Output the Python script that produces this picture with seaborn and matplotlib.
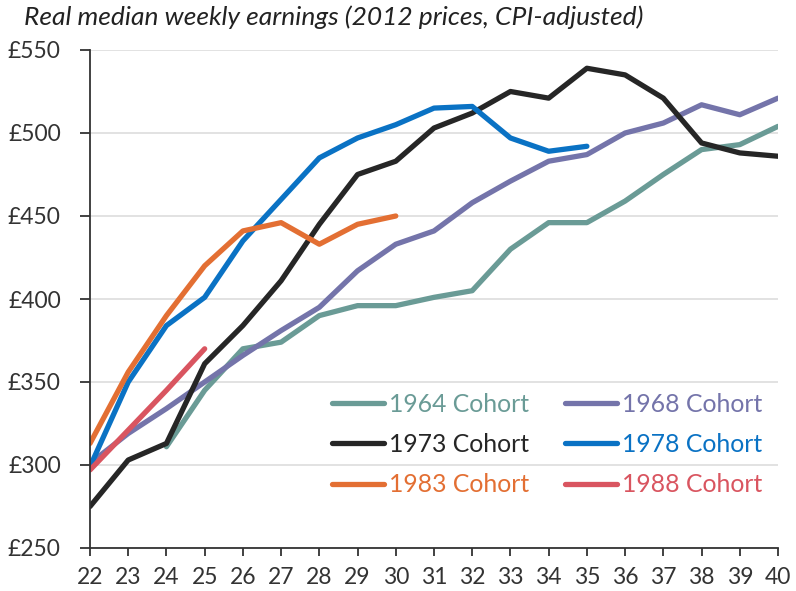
import matplotlib
matplotlib.use("Agg")
import matplotlib.pyplot as plt
import seaborn as sns
import pandas as pd

ages = list(range(22, 41))

c1964_ages = list(range(24, 41))
c1964 = [311, 345, 370, 374, 390, 396, 396, 401, 405, 430, 446, 446, 459, 475, 490, 493, 504]

c1968_ages = list(range(22, 41))
c1968 = [301, 319, 334, 350, 366, 381, 395, 417, 433, 441, 458, 471, 483, 487, 500, 506, 517, 511, 521]

c1973_ages = list(range(22, 41))
c1973 = [275, 303, 313, 361, 384, 411, 445, 475, 483, 503, 512, 525, 521, 539, 535, 521, 494, 488, 486]

c1978_ages = list(range(22, 36))
c1978 = [299, 350, 384, 401, 435, 460, 485, 497, 505, 515, 516, 497, 489, 492]

c1983_ages = list(range(22, 31))
c1983 = [313, 356, 390, 420, 441, 446, 433, 445, 450]

c1988_ages = list(range(22, 26))
c1988 = [297, 321, 345, 370]

cohorts = ["1964 Cohort", "1968 Cohort", "1973 Cohort", "1978 Cohort", "1983 Cohort", "1988 Cohort"]
colors = ["#6a9b96", "#7474aa", "#262626", "#0a72c4", "#e36f33", "#d95560"]
legend_order = ["1964 Cohort", "1973 Cohort", "1983 Cohort", "1968 Cohort", "1978 Cohort", "1988 Cohort"]

yticks = [250, 300, 350, 400, 450, 500, 550]
ytick_labels = ["£250", "£300", "£350", "£400", "£450", "£500", "£550"]
title = "Real median weekly earnings (2012 prices, CPI-adjusted)"

rows = []
for name, a, v in zip(cohorts,
                      [c1964_ages, c1968_ages, c1973_ages, c1978_ages, c1983_ages, c1988_ages],
                      [c1964, c1968, c1973, c1978, c1983, c1988]):
    for ai, vi in zip(a, v):
        rows.append({"age": ai, "earnings": vi, "cohort": name})
df = pd.DataFrame(rows)

sns.set_theme(style="white")
plt.rcParams["font.family"] = ["Lato", "DejaVu Sans"]

fig = plt.figure(figsize=(7.96, 5.91), dpi=100)
ax = fig.add_axes([90/796, 1-548/591, 688/796, 498/591])

sns.lineplot(data=df, x="age", y="earnings", hue="cohort", hue_order=cohorts,
             palette=colors, linewidth=3.8, ax=ax, legend=True, estimator=None,
             solid_capstyle="round")

ax.set_xlim(22, 40)
ax.set_ylim(250, 550)
ax.set_xticks(ages)
ax.set_xticklabels([str(a) for a in ages])
ax.set_yticks(yticks)
ax.set_yticklabels(ytick_labels)
ax.set_xlabel("")
ax.set_ylabel("")
ax.grid(axis="y", color="#dddddd", linewidth=1.2)
ax.set_axisbelow(True)
for s in ["top", "right"]:
    ax.spines[s].set_visible(False)
for s in ["left", "bottom"]:
    ax.spines[s].set_color("#333333")
    ax.spines[s].set_linewidth(1.3)
ax.tick_params(axis="both", which="both", direction="out", length=6, width=1.3,
               color="#333333", labelsize=16.5, labelcolor="#333333")
ax.tick_params(axis="y", pad=14, length=7)
ax.tick_params(axis="x", pad=8)
ax.yaxis.set_ticks_position("left")
ax.xaxis.set_ticks_position("bottom")

handles, labels = ax.get_legend_handles_labels()
hmap = dict(zip(labels, handles))
leg = ax.legend([hmap[l] for l in legend_order], legend_order, ncol=2,
                loc="upper left", bbox_to_anchor=(0.352, 0.312), frameon=False,
                fontsize=17.8, handlelength=2.1, handletextpad=0.2,
                columnspacing=1.45, labelspacing=0.7, borderpad=0, borderaxespad=0,
                labelcolor="linecolor")
for line in leg.get_lines():
    line.set_linewidth(3.8)
    line.set_solid_capstyle("round")

fig.text(24/796, 1-17/591, title, fontsize=19, style="italic", color="#222222",
         ha="left", va="center", family=["Lato", "DejaVu Sans"])

fig.savefig("out.png", dpi=100)
